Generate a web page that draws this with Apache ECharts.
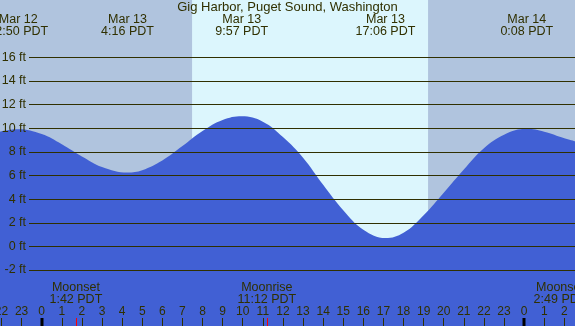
<!DOCTYPE html>
<html>
<head>
<meta charset="utf-8">
<script src="https://cdn.jsdelivr.net/npm/echarts@6/dist/echarts.min.js"></script>
<style>
  html, body { margin: 0; padding: 0; background: #fff; }
  #main { width: 575px; height: 326px; }
</style>
</head>
<body>
<div id="main"></div>
<script>
// tide height (ft), hours from Mar 13 0:00 PDT
var tideHours = [-2.075, -1.167, 0, 1, 2, 3, 4.267, 5, 6, 7, 8, 9, 9.95, 11, 12, 13, 14, 15, 16, 17.1, 18, 19, 20, 21, 22, 23, 24.133, 25, 26, 26.53];
var tideFeet = [9.70, 9.90, 9.50, 8.64, 7.61, 6.72, 6.25, 6.44, 7.26, 8.48, 9.75, 10.68, 11.0, 10.55, 9.25, 7.5, 5.2, 3.05, 1.4, 0.70, 1.15, 2.64, 4.54, 6.5, 8.3, 9.45, 9.95, 9.7, 9.15, 8.9];

var extremeHours = [-1.167, 4.267, 9.95, 17.1, 24.133];
var extremeDays = ['Mar 12', 'Mar 13', 'Mar 13', 'Mar 13', 'Mar 14'];
var extremeTimes = ['22:50 PDT', '4:16 PDT', '9:57 PDT', '17:06 PDT', '0:08 PDT'];

var moonHours = [1.7, 11.2, 26.817];
var moonNames = ['Moonset', 'Moonrise', 'Moonset'];
var moonTimes = ['1:42 PDT', '11:12 PDT', '2:49 PDT'];

var sunrise = 7.48;
var sunset = 19.22;

var feetTicks = [-2, 0, 2, 4, 6, 8, 10, 12, 14, 16];
var hourTicks = [];
for (var h = -2; h <= 26; h++) hourTicks.push(h);
var midnightHours = [0, 24];

var ink = '#303000';
var font = 'Liberation Sans';

var chartDom = document.getElementById('main');
var myChart = echarts.init(chartDom);
var option;

option = {
  animation: false,
  title: {
    text: 'Gig Harbor, Puget Sound, Washington',
    left: 'center',
    top: 0,
    padding: 1,
    textStyle: { fontFamily: font, fontSize: 13, fontWeight: 'normal', color: ink }
  },
  grid: {
    left: 0, right: 0, top: 0, bottom: 0,
    outerBoundsMode: 'none',
    containLabel: false,
    show: true,
    borderWidth: 0,
    backgroundColor: '#b0c4de'
  },
  xAxis: {
    type: 'value',
    z: 10,
    min: -2.075,
    max: 26.53,
    axisLine: { show: false, onZero: false },
    splitLine: { show: false },
    axisTick: {
      inside: true,
      length: 8,
      customValues: hourTicks,
      lineStyle: { color: ink, width: 1 }
    },
    axisLabel: {
      inside: true,
      margin: 14.5,
      verticalAlign: 'middle',
      customValues: hourTicks,
      hideOverlap: false,
      fontFamily: font,
      fontSize: 12,
      color: ink,
      formatter: function (v) { return String(((v % 24) + 24) % 24); }
    }
  },
  yAxis: {
    type: 'value',
    z: 10,
    min: -6.74,
    max: 20.84,
    axisLine: { show: false, onZero: false },
    axisTick: { show: false },
    splitLine: { show: false },
    axisLabel: {
      inside: true,
      margin: 26,
      align: 'right',
      verticalAlign: 'middle',
      customValues: feetTicks,
      fontFamily: font,
      fontSize: 12.5,
      color: ink,
      formatter: function (v) { return v + ' ft'; }
    }
  },
  series: [
    {
      type: 'line',
      data: tideHours.map(function (t, i) { return [t, tideFeet[i]]; }),
      smooth: 0.4,
      showSymbol: false,
      lineStyle: { width: 0 },
      areaStyle: { color: '#4160d4', opacity: 1, origin: 'start' },
      z: 2,
      markArea: {
        silent: true,
        z: 1,
        itemStyle: { color: '#dcf6fd' },
        data: [[{ xAxis: sunrise }, { xAxis: sunset }]]
      }
    }
  ]
};

myChart.setOption(option);

function px(t, v) {
  return myChart.convertToPixel({ gridIndex: 0 }, [t, v]);
}

var g = [];
feetTicks.forEach(function (v) {
  var y = Math.round(px(0, v)[1]) + 0.5;
  g.push({ type: 'line', z: 10, shape: { x1: 29, y1: y, x2: 575, y2: y }, style: { stroke: ink, lineWidth: 1 } });
});
midnightHours.forEach(function (t) {
  var x = px(t, 0)[0];
  g.push({ type: 'rect', z: 11, shape: { x: Math.round(x) - 1.5, y: 318, width: 3, height: 8 }, style: { fill: '#000' } });
});
moonHours.forEach(function (t, i) {
  var x = px(t, 0)[0];
  g.push({ type: 'rect', z: 11, shape: { x: Math.round(x), y: 318, width: 1, height: 8 }, style: { fill: '#ff0000' } });
  g.push({
    type: 'text', z: 12, x: Math.min(x, 560), y: 293.4,
    style: { text: moonNames[i] + '\n' + moonTimes[i], fill: ink, font: '12.5px ' + font, align: 'center', verticalAlign: 'middle', lineHeight: 11.7 }
  });
});
extremeHours.forEach(function (t, i) {
  var x = px(t, 0)[0];
  g.push({
    type: 'text', z: 12, x: x, y: 25.6,
    style: { text: extremeDays[i] + '\n' + extremeTimes[i], fill: ink, font: '12.5px ' + font, align: 'center', verticalAlign: 'middle', lineHeight: 12.2 }
  });
});

myChart.setOption({ graphic: { elements: g } });
</script>
</body>
</html>
